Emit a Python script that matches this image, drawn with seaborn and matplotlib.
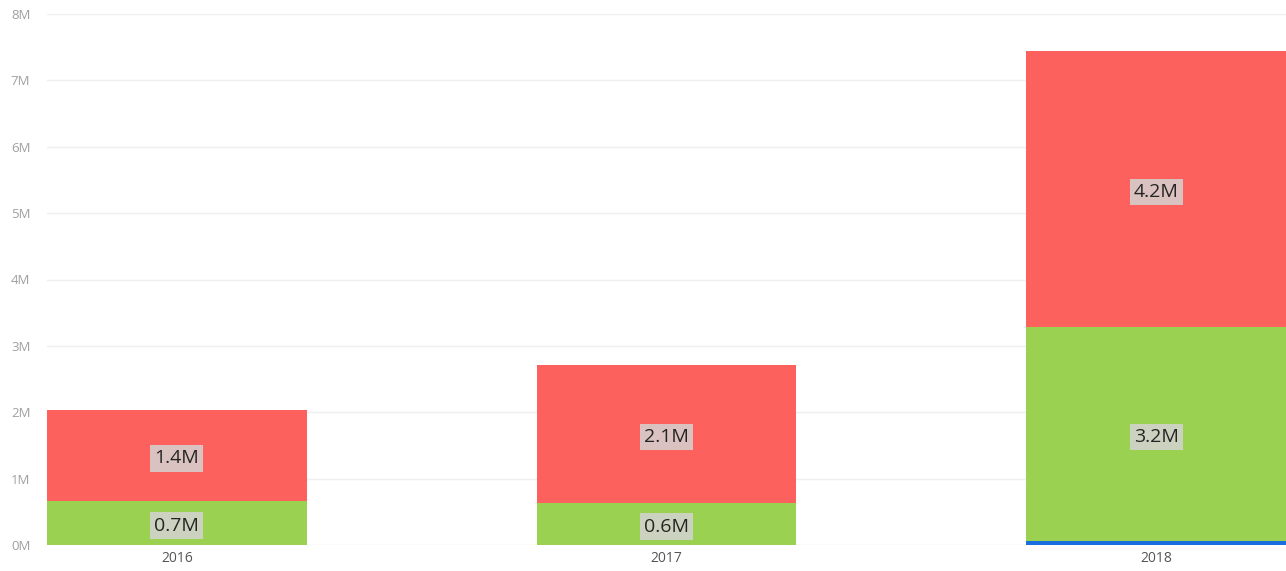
import numpy as np
import pandas as pd
import matplotlib
matplotlib.use("Agg")
import matplotlib.pyplot as plt
import seaborn as sns

# values in millions
years = ["2016", "2017", "2018"]
blue_vals = [0.0, 0.0, 0.06]
green_vals = [0.66, 0.63, 3.22]
red_vals = [1.37, 2.08, 4.16]

sns.set_style("white")
plt.rcParams["font.family"] = ["Segoe UI", "Open Sans", "DejaVu Sans"]

df = pd.DataFrame({"year": years, "blue": blue_vals, "green": green_vals, "red": red_vals})
df["blue_top"] = df["blue"]
df["green_top"] = df["blue"] + df["green"]
df["red_top"] = df["green_top"] + df["red"]

fig = plt.figure(figsize=(12.86, 5.71), dpi=100)
ax = fig.add_axes([47 / 1286, 1 - 545 / 571, 1 - 47 / 1286, (545 - 14) / 571])

w = 0.53
# stack by drawing cumulative totals, largest first
sns.barplot(data=df, x="year", y="red_top", color="#FD615D", width=w, saturation=1,
            linewidth=0, ax=ax, zorder=2)
sns.barplot(data=df, x="year", y="green_top", color="#9BD151", width=w, saturation=1,
            linewidth=0, ax=ax, zorder=3)
sns.barplot(data=df, x="year", y="blue_top", color="#1A6FE0", width=w, saturation=1,
            linewidth=0, ax=ax, zorder=4)

box = dict(boxstyle="square,pad=0.22", facecolor="#d4d4d4", edgecolor="none", alpha=0.85)
for i, row in df.iterrows():
    for lo, hi, v in [(row["blue_top"], row["green_top"], row["green"]),
                      (row["green_top"], row["red_top"], row["red"])]:
        if v > 0.3:
            ax.text(i, (lo + hi) / 2 - 0.04, f"{v:.1f}M", ha="center", va="center",
                    fontsize=14, color="#252423", bbox=box, zorder=6)

ax.set_xlim(-w / 2, 2 + w / 2)
ax.set_ylim(0, 8)
ax.set_yticks(range(0, 9))
ax.set_yticklabels([f"{i}M" for i in range(0, 9)])
ax.grid(axis="y", color="#efefef", linewidth=1, zorder=0)
ax.set_axisbelow(True)
for s in ax.spines.values():
    s.set_visible(False)
ax.tick_params(axis="y", length=0, pad=12, labelsize=9.5, labelcolor="#a0a0a0")
ax.tick_params(axis="x", length=0, pad=4, labelsize=10, labelcolor="#555555")
ax.set_xlabel("")
ax.set_ylabel("")

fig.savefig("out.png", dpi=100)
